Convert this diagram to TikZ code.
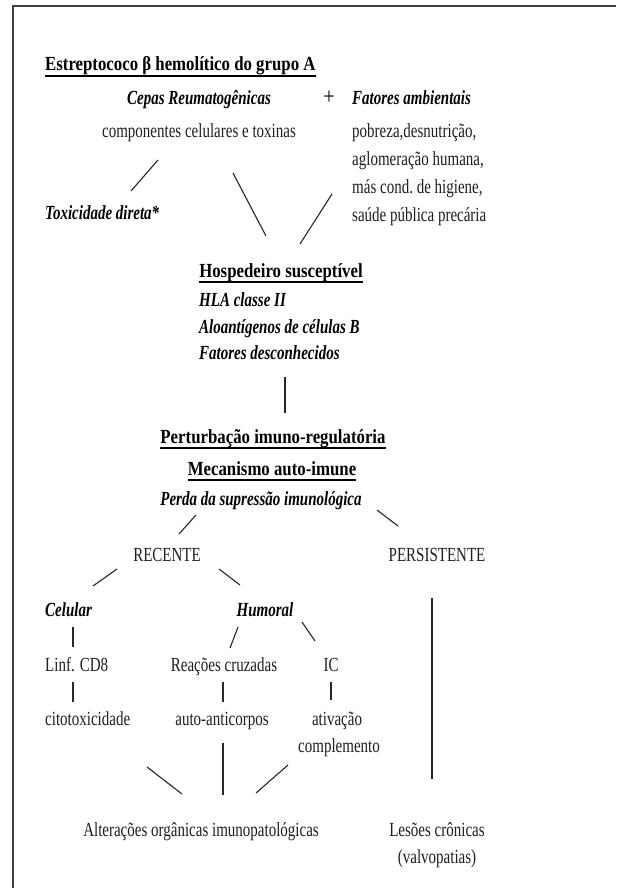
\documentclass[tikz,border=0pt]{standalone}
\usepackage{fontspec}
\setmainfont{Liberation Serif}[FakeStretch=0.75]
\newfontfamily\bdfont{Liberation Serif}[FakeStretch=0.84]
\tikzset{
  rg/.style={inner sep=0pt, font=\fontsize{20}{24}\selectfont, text=black!88},
  bd/.style={inner sep=0pt, font=\bdfont\bfseries\fontsize{20}{24}\selectfont, text=black},
  bi/.style={inner sep=0pt, font=\fontsize{20}{24}\selectfont\bfseries\itshape, text=black},
  link/.style={line width=1.1pt, draw=black!85},
  uline/.style={line width=1.4pt, draw=black},
  frameline/.style={line width=1.5pt, draw=black!75}
}
\begin{document}
\begin{tikzpicture}[x=1pt, y=-1pt]
\useasboundingbox (0,0) rectangle (616,888);
\fill[white] (0,0) rectangle (616,888);
\draw[frameline] (13,888) -- (13,6) -- (616,6);

% texts
\node[bd, anchor=base west] (title) at (45,71) {Estreptococo β hemolítico do grupo A};
\draw[uline] ([yshift=-5pt]title.base west) -- ([yshift=-5pt]title.base east);
\node[bi, anchor=base] (cepas) at (199,105) {Cepas Reumatogênicas};
\node[rg, anchor=base, text=black, font=\bdfont\fontsize{24}{28}\selectfont] (plus) at (329,105) {+};
\node[bi, anchor=base west] (fat) at (352,105) {Fatores ambientais};
\node[rg, anchor=base] (comp) at (199,137) {componentes celulares e toxinas};
\node[rg, anchor=base west] (amb1) at (352,137) {pobreza,desnutrição,};
\node[rg, anchor=base west] (amb2) at (352,165) {aglomeração humana,};
\node[rg, anchor=base west] (amb3) at (352,193) {más cond.\ de higiene,};
\node[rg, anchor=base west] (amb4) at (352,221) {saúde pública precária};
\node[bi, anchor=base west] (tox) at (45,219) {Toxicidade direta*};

\node[bd, anchor=base] (hosp) at (281,277) {Hospedeiro susceptível};
\draw[uline] ([yshift=-5pt]hosp.base west) -- ([yshift=-5pt]hosp.base east);
\node[bi, anchor=base west] (hla) at (199,306) {HLA classe II};
\node[bi, anchor=base west] (alo) at (199,333) {Aloantígenos de células B};
\node[bi, anchor=base west] (desc) at (199,359) {Fatores desconhecidos};

\node[bd, anchor=base] (pert) at (273,443) {Perturbação imuno-regulatória};
\draw[uline] ([yshift=-5pt]pert.base west) -- ([yshift=-5pt]pert.base east);
\node[bd, anchor=base] (mec) at (272,475) {Mecanismo auto-imune};
\draw[uline] ([yshift=-5pt]mec.base west) -- ([yshift=-5pt]mec.base east);
\node[bi, anchor=base] (perda) at (261,505) {Perda da supressão imunológica};

\node[rg, anchor=base] (rec) at (167,561) {RECENTE};
\node[rg, anchor=base] (pers) at (437,561) {PERSISTENTE};
\node[bi, anchor=base west] (cel) at (45,616) {Celular};
\node[bi, anchor=base] (hum) at (265,616) {Humoral};
\node[rg, anchor=base west] (cd8) at (45,671) {Linf. CD8};
\node[rg, anchor=base] (reac) at (224,671) {Reações cruzadas};
\node[rg, anchor=base] (ic) at (331,671) {IC};
\node[rg, anchor=base west] (cito) at (45,725) {citotoxicidade};
\node[rg, anchor=base] (auto) at (222,725) {auto-anticorpos};
\node[rg, anchor=base] (ativ) at (337,725) {ativação};
\node[rg, anchor=base] (compl) at (339,752) {complemento};
\node[rg, anchor=base] (alt) at (201,836) {Alterações orgânicas imunopatológicas};
\node[rg, anchor=base] (les) at (437,836) {Lesões crônicas};
\node[rg, anchor=base] (valv) at (437,863) {(valvopatias)};

% connector end points
\coordinate (c1a) at (158,160);  \coordinate (c1b) at (131,191);
\coordinate (c2a) at (233,173);  \coordinate (c2b) at (266,236);
\coordinate (c3a) at (332,194);  \coordinate (c3b) at (300,244);
\coordinate (c4a) at (285,377);  \coordinate (c4b) at (285,413);
\coordinate (c5a) at (196,515);  \coordinate (c5b) at (179,534);
\coordinate (c6a) at (377,510);  \coordinate (c6b) at (398,526);
\coordinate (c7a) at (117,569);  \coordinate (c7b) at (93,586);
\coordinate (c8a) at (219,569);  \coordinate (c8b) at (240,585);
\coordinate (c9a) at (73,627);   \coordinate (c9b) at (73,647);
\coordinate (c10a) at (238,627); \coordinate (c10b) at (230,648);
\coordinate (c11a) at (302,622); \coordinate (c11b) at (315,641);
\coordinate (c12a) at (73,682);  \coordinate (c12b) at (73,702);
\coordinate (c13a) at (223,682); \coordinate (c13b) at (223,702);
\coordinate (c14a) at (331,682); \coordinate (c14b) at (331,700);
\coordinate (c15a) at (147,767); \coordinate (c15b) at (182,794);
\coordinate (c16a) at (223,743); \coordinate (c16b) at (223,795);
\coordinate (c17a) at (288,765); \coordinate (c17b) at (256,793);
\coordinate (c18a) at (432,598); \coordinate (c18b) at (432,779);

\foreach \i in {1,...,18} {\draw[link] (c\i a) -- (c\i b);}
\end{tikzpicture}
\end{document}
